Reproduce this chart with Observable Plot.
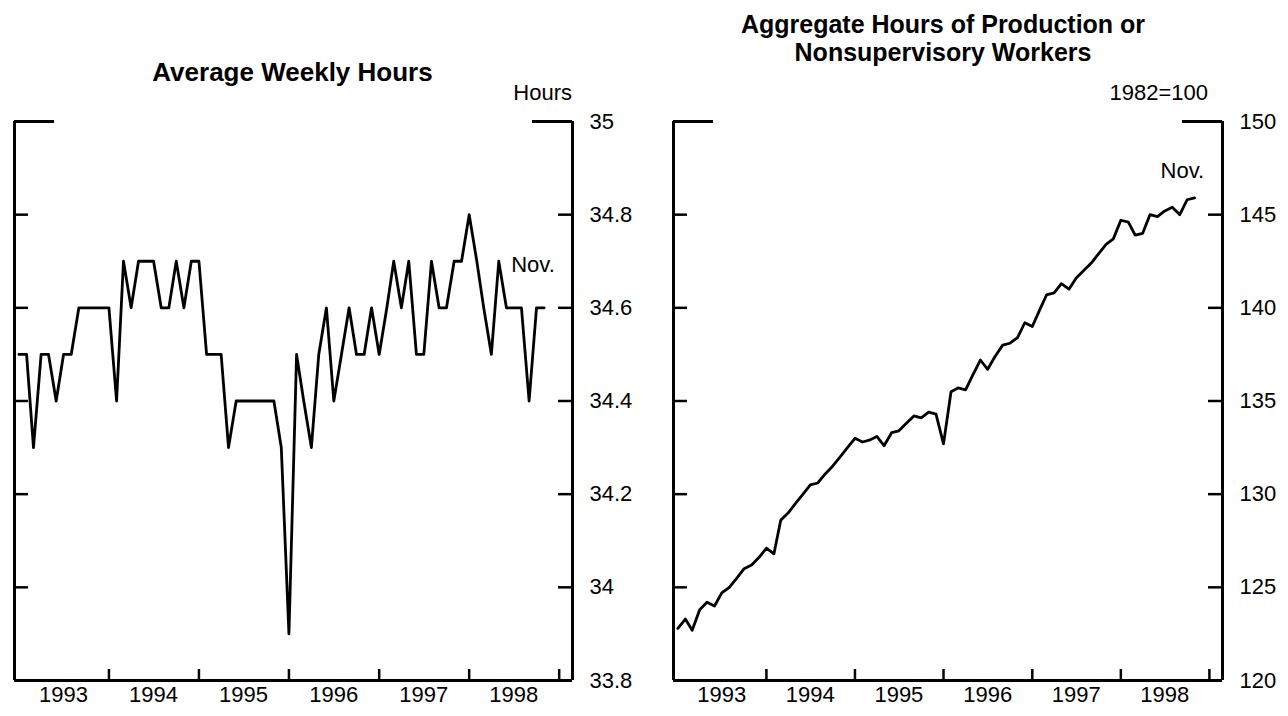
<!DOCTYPE html>
<html><head><meta charset="utf-8">
<script src="https://cdn.jsdelivr.net/npm/d3@7"></script>
<script src="https://cdn.jsdelivr.net/npm/@observablehq/plot@0.6"></script>
<style>
body{margin:0;background:#fff;width:1288px;height:716px;position:relative;overflow:hidden;font-family:"Liberation Sans",Arial,Helvetica,sans-serif;color:#000}
.t{position:absolute;font-weight:bold;font-size:25px;text-align:center;line-height:28px;white-space:nowrap}
.u{position:absolute;font-size:22px;line-height:26px;text-align:right;white-space:nowrap}
.p{position:absolute;top:100px}
</style></head><body>
<div class="t" style="left:0;width:585px;top:58px;font-size:26px">Average Weekly Hours</div>
<div class="t" style="left:640px;width:606px;top:10px">Aggregate Hours of Production or<br>Nonsupervisory Workers</div>
<div class="u" style="left:400px;width:172px;top:80px">Hours</div>
<div class="u" style="left:1000px;width:208px;top:80px">1982=100</div>
<div id="p1" class="p" style="left:0"></div>
<div id="p2" class="p" style="left:640px"></div>
<script>
// ---- data (monthly, Jan 1993 .. Nov 1998) ----
const startYear = 1993;
const weeklyHours = [
  34.5,34.5,34.3,34.5,34.5,34.4,34.5,34.5,34.6,34.6,34.6,34.6,
  34.6,34.4,34.7,34.6,34.7,34.7,34.7,34.6,34.6,34.7,34.6,34.7,
  34.7,34.5,34.5,34.5,34.3,34.4,34.4,34.4,34.4,34.4,34.4,34.3,
  33.9,34.5,34.4,34.3,34.5,34.6,34.4,34.5,34.6,34.5,34.5,34.6,
  34.5,34.6,34.7,34.6,34.7,34.5,34.5,34.7,34.6,34.6,34.7,34.7,
  34.8,34.7,34.6,34.5,34.7,34.6,34.6,34.6,34.4,34.6,34.6
];
const aggregateHours = [
  122.8,123.3,122.7,123.8,124.2,124.0,124.7,125.0,125.5,126.0,126.2,126.6,
  127.1,126.8,128.6,129.0,129.5,130.0,130.5,130.6,131.1,131.5,132.0,132.5,
  133.0,132.8,132.9,133.1,132.6,133.3,133.4,133.8,134.2,134.1,134.4,134.3,
  132.7,135.5,135.7,135.6,136.4,137.2,136.7,137.4,138.0,138.1,138.4,139.2,
  139.0,139.9,140.7,140.8,141.3,141.0,141.6,142.0,142.4,142.9,143.4,143.7,
  144.7,144.6,143.9,144.0,145.0,144.9,145.2,145.4,145.0,145.8,145.9
];
const yearLabels = [1993,1994,1995,1996,1997,1998];
const leftTicks = [33.8,34,34.2,34.4,34.6,34.8,35];
const rightTicks = [120,125,130,135,140,145,150];
const lastLabel = "Nov.";

const dates = weeklyHours.map((_, i) => new Date(Date.UTC(startYear, i, 1)));
const xDomain = [new Date(Date.UTC(1992, 11, 14)), new Date(Date.UTC(1999, 1, 24))];
const yearMid = yearLabels.map(y => new Date(Date.UTC(y, 6, 1)));
const yearStarts = yearLabels.map(y => new Date(Date.UTC(y + 1, 0, 1)));

function panel(values, ticks, opts) {
  const data = values.map((v, i) => ({date: dates[i], value: v}));
  const H = 616, mt = 21, mb = 36;
  const iw = opts.width - opts.ml - opts.mr;
  const ih = H - mt - mb;
  const yDomain = [ticks[0], ticks[ticks.length - 1]];
  const sw = 3;
  return Plot.plot({
    width: opts.width, height: H,
    marginLeft: opts.ml, marginRight: opts.mr, marginTop: mt, marginBottom: mb,
    style: {fontFamily: '"Liberation Sans", Arial, Helvetica, sans-serif', fontSize: "22px", color: "#000", background: "transparent", overflow: "visible"},
    x: {type: "utc", domain: xDomain, label: null},
    y: {domain: yDomain, label: null},
    marks: [
      Plot.ruleX([xDomain[0], xDomain[1]], {x: d => d, stroke: "#000", strokeWidth: sw}),
      Plot.ruleY([yDomain[0]], {y: d => d, stroke: "#000", strokeWidth: sw}),
      Plot.tickY([yDomain[1]], {y: d => d, insetRight: iw - 40, stroke: "#000", strokeWidth: sw}),
      Plot.tickY([yDomain[1]], {y: d => d, insetLeft: iw - 40, stroke: "#000", strokeWidth: sw}),
      Plot.tickY(ticks, {y: d => d, insetRight: iw - 14, stroke: "#000", strokeWidth: 2.5}),
      Plot.tickY(ticks, {y: d => d, insetLeft: iw - 14, stroke: "#000", strokeWidth: 2.5}),
      Plot.tickX(yearStarts, {x: d => d, insetTop: ih - 11, stroke: "#000", strokeWidth: 2.5}),
      Plot.axisY(ticks, {anchor: "right", tickSize: 0, tickPadding: 17, tickFormat: d => String(d), fontSize: 22, label: null}),
      Plot.axisX(yearMid, {anchor: "bottom", tickSize: 0, tickPadding: 6, tickFormat: d => String(d.getUTCFullYear()), fontSize: 22, label: null}),
      Plot.line(data, {x: "date", y: "value", stroke: "#000", strokeWidth: 2.8, strokeLinejoin: "round"}),
      Plot.text(data.slice(-1), {x: "date", y: "value", text: () => lastLabel, dx: opts.ndx, dy: opts.ndy, textAnchor: "start", fontSize: 22})
    ]
  });
}

document.getElementById("p1").append(panel(weeklyHours, leftTicks, {width: 640, ml: 14, mr: 68, ndx: -33, ndy: -43}));
document.getElementById("p2").append(panel(aggregateHours, rightTicks, {width: 648, ml: 33, mr: 66, ndx: -34, ndy: -27}));
</script>
</body></html>
